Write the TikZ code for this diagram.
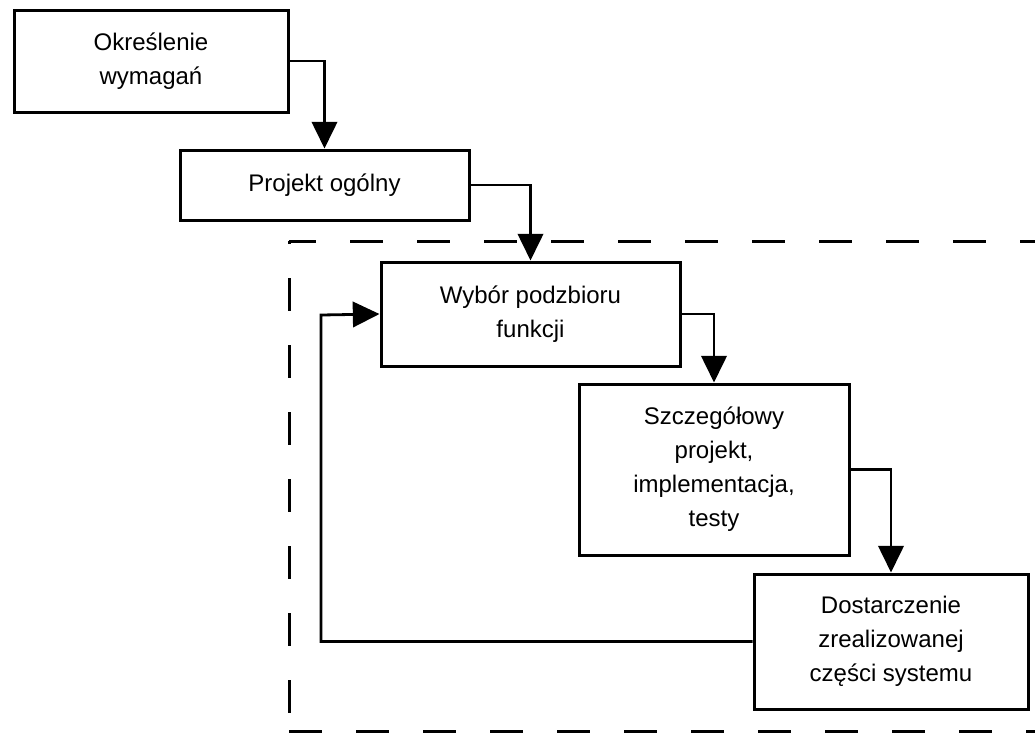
\documentclass[tikz,border=0pt]{standalone}
\usepackage{fontspec}
\setmainfont{Liberation Sans}
\usetikzlibrary{arrows.meta}

\tikzset{
  stage/.style={draw, line width=2.25pt, align=center, inner sep=0pt,
    font=\fontsize{18pt}{25.5pt}\selectfont},
  flow/.style={line width=2.1pt,
    -{Triangle[length=20pt,width=19pt]}},
  frame/.style={line width=2.25pt, dash pattern=on 24.75pt off 25.5pt}
}

\begin{document}
\begin{tikzpicture}[x=0.75pt, y=-0.75pt]
  \useasboundingbox (0,0) rectangle (1035,733);

  % iterative part of the process
  \draw[frame, dash phase=4.5pt]  (289,241) -- (1045,241);
  \draw[frame, dash phase=22.5pt] (289,241) -- (289,731);
  \draw[frame, dash phase=0pt]    (289,731) -- (1045,731);

  % process stages
  \node[stage, minimum width=205.5pt, minimum height=76.5pt]
    (req) at (151,61) {Określenie\\wymagań};
  \node[stage, minimum width=216.75pt, minimum height=52.5pt]
    (gen) at (324.5,185) {Projekt ogólny};
  \node[stage, minimum width=224.25pt, minimum height=78pt]
    (sel) at (530.5,314) {Wybór podzbioru\\funkcji};
  \node[stage, minimum width=202.5pt, minimum height=128.25pt]
    (impl) at (714,469.5) {Szczegółowy\\projekt,\\implementacja,\\testy};
  \node[stage, minimum width=205.5pt, minimum height=101.25pt]
    (del) at (891,641.5) {Dostarczenie\\zrealizowanej\\części systemu};

  % flow between stages
  \draw[flow] (req.east)  -| (gen.north);
  \draw[flow] (gen.east)  -| (sel.north);
  \draw[flow] (sel.east)  -| (impl.north);
  \draw[flow] (impl.east) -| (del.north);

  % return to the next increment
  \coordinate (back) at (321,315);
  \draw[flow] (del.west) -| (back) -- (sel.west);
\end{tikzpicture}
\end{document}
